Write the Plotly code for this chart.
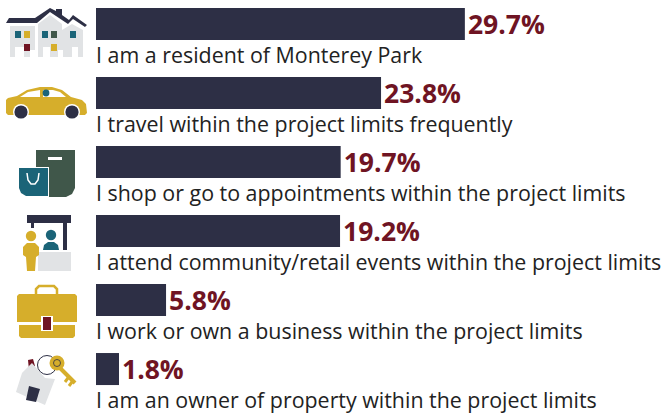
import plotly.graph_objects as go

categories = [
    "I am a resident of Monterey Park",
    "I travel within the project limits frequently",
    "I shop or go to appointments within the project limits",
    "I attend community/retail events within the project limits",
    "I work or own a business within the project limits",
    "I am an owner of property within the project limits",
]
# printed percentages
value_labels = ["29.7%", "23.8%", "19.7%", "19.2%", "5.8%", "1.8%"]
# bar lengths as drawn in the picture (they differ slightly from the printed labels)
bar_lengths = [29.7, 22.95, 19.7, 19.65, 5.64, 1.85]

NAVY = "#2d2f45"
MAROON = "#6f1423"
YELLOW = "#d6ae2b"
TEAL = "#1b6478"
GREEN = "#40574a"
GRAY = "#e1e3e5"
WHITE = "#ffffff"

W, H, LEFT = 664, 415, 96
PLOT_W = W - LEFT


def px(x):
    return (x - LEFT) / PLOT_W


def py(y):
    return 1 - y / H


shapes = []


def poly(points, fill):
    d = "M " + " L ".join(f"{px(x):.5f},{py(y):.5f}" for x, y in points) + " Z"
    shapes.append(dict(type="path", xref="paper", yref="paper", path=d,
                       fillcolor=fill, line=dict(width=0), layer="above"))


def rect(x0, y0, x1, y1, fill):
    poly([(x0, y0), (x1, y0), (x1, y1), (x0, y1)], fill)


def circle(cx, cy, r, fill, line=None, lw=0):
    shapes.append(dict(type="circle", xref="paper", yref="paper",
                       x0=px(cx - r), x1=px(cx + r), y0=py(cy + r), y1=py(cy - r),
                       fillcolor=fill, line=dict(width=lw, color=line or fill), layer="above"))


def line(points, color, lw):
    d = "M " + " L ".join(f"{px(x):.5f},{py(y):.5f}" for x, y in points)
    shapes.append(dict(type="path", xref="paper", yref="paper", path=d,
                       line=dict(width=lw, color=color), layer="above"))


# --- houses
poly([(10, 26), (35, 26), (35, 57), (10, 57)], GRAY)
poly([(38, 24), (50, 15), (62, 24), (62, 30), (72, 24), (83, 30), (83, 57), (38, 57)], GRAY)
rect(15, 47, 24, 57, WHITE)
rect(30, 50, 35, 57, WHITE)
rect(43, 47, 50, 57, WHITE)
rect(58, 50, 63, 57, WHITE)
rect(72, 47, 78, 57, WHITE)
poly([(6, 23), (9, 18), (35, 18), (50, 8), (56, 11), (56, 9), (62, 9), (62, 15), (69, 20),
      (73, 15), (87, 25), (85, 27), (73, 19), (68, 24), (50, 12), (37, 23)], NAVY)
for x0, c in [(15, TEAL), (24, YELLOW), (42, TEAL), (51, GREEN), (70, TEAL)]:
    rect(x0, 31, x0 + 6, 38, c)
rect(24, 44, 30, 51, MAROON)
rect(51, 44, 57, 51, YELLOW)

# --- car
poly([(6, 100), (8, 98), (17, 96), (27, 90), (40, 87), (52, 87), (62, 90), (71, 97), (82, 100),
      (86, 104), (87, 113), (85, 115), (8, 115), (6, 113)], YELLOW)
poly([(20, 97), (28, 92), (40, 90), (40, 97)], WHITE)
poly([(43, 90), (53, 90), (60, 92), (66, 97), (43, 97)], WHITE)
circle(21, 112, 8, WHITE)
circle(72, 112, 8, WHITE)
circle(21, 112, 6.6, NAVY)
circle(72, 112, 6.6, NAVY)
circle(46, 93, 3.4, TEAL)

# --- shopping bags
poly([(36, 150), (75, 150), (75, 188), (72, 194), (66, 197), (36, 197)], GREEN)
rect(48, 157, 62, 160, WHITE)
poly([(18, 167), (49, 167), (49, 197), (26, 197), (20, 194), (18, 188)], WHITE)
poly([(19, 168), (48, 168), (48, 196), (26, 196), (21, 193), (19, 188)], TEAL)
line([(27, 173), (28, 180), (31, 184), (35, 184), (38, 180), (39, 173)], WHITE, 1.5)

# --- booth
rect(27, 215, 71, 223, NAVY)
rect(63, 223, 67, 250, NAVY)
rect(31, 223, 34, 228, NAVY)
rect(38, 252, 71, 271, GRAY)
circle(31, 236, 5.2, YELLOW)
poly([(27, 243), (35, 243), (39, 247), (39, 255), (36, 257), (35, 271), (27, 271), (26, 257),
      (23, 255), (23, 247)], YELLOW)
circle(51, 235, 5.2, TEAL)
poly([(43, 250), (44, 245), (48, 242), (54, 242), (58, 245), (59, 250)], TEAL)

# --- briefcase
line([(36, 295), (36, 289), (39, 286), (54, 286), (57, 289), (57, 295)], YELLOW, 2.5)
poly([(19, 294), (75, 294), (77, 296), (77, 322), (17, 322), (17, 296)], YELLOW)
poly([(19, 325), (75, 325), (75, 336), (73, 338), (21, 338), (19, 336)], YELLOW)
rect(41, 316, 53, 331, WHITE)
rect(43, 317, 51, 330, MAROON)

# --- keys and tag
poly([(28, 360), (33, 359), (35, 366), (29, 370)], MAROON)
poly([(32, 363), (22, 373), (16, 392), (45, 405), (55, 379), (45, 378)], GRAY)
poly([(29, 386), (40, 389), (36, 402), (26, 400)], NAVY)
circle(47, 365, 9.5, "rgba(0,0,0,0)", NAVY, 1)
line([(60, 368), (75, 383)], YELLOW, 4)
line([(68, 378), (65, 382)], YELLOW, 3)
line([(72, 382), (69, 386)], YELLOW, 3)
circle(57, 363, 7.5, YELLOW)
circle(57, 363, 3.5, "rgba(0,0,0,0)", NAVY, 0.8)

fig = go.Figure(go.Bar(
    y=categories, x=bar_lengths, orientation="h",
    marker=dict(color=NAVY, line=dict(width=0)),
    text=value_labels, textposition="outside", cliponaxis=False, constraintext="none",
    textfont=dict(family="Open Sans", size=26.5, color=MAROON, weight="bold"),
    hoverinfo="skip",
))

annotations = [
    dict(x=0, y=c, xref="x", yref="y", text=c, showarrow=False, xanchor="left", xshift=-2,
         yanchor="middle", yshift=-30, font=dict(family="Open Sans", size=21.4, color="#222222"))
    for c in categories
]

fig.update_layout(
    width=W, height=H, margin=dict(l=LEFT, r=0, t=0, b=0),
    paper_bgcolor=WHITE, plot_bgcolor=WHITE, showlegend=False, bargap=0.536,
    xaxis=dict(range=[0, PLOT_W / 12.42], visible=False, fixedrange=True),
    yaxis=dict(type="category", categoryorder="array", categoryarray=categories,
               range=[5.666, -0.348], visible=False, fixedrange=True),
    shapes=shapes, annotations=annotations,
)
fig.write_html("out.html", config={"displayModeBar": False},
               post_script="document.body.style.margin='0';document.body.style.overflow='hidden';")
